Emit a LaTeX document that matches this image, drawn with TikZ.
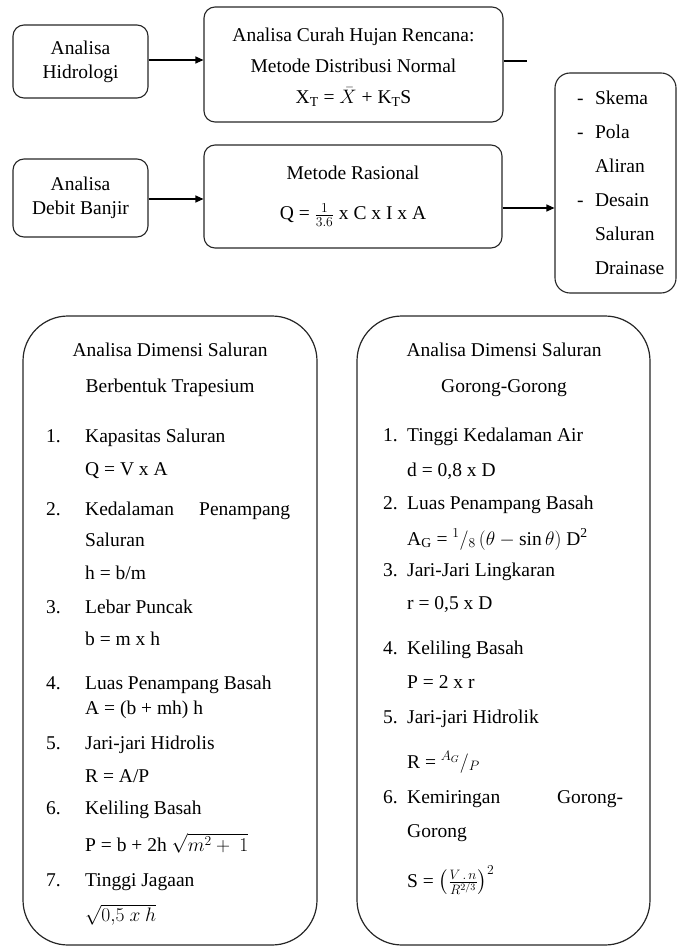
\RequirePackage{fix-cm}
\documentclass[tikz,border=0pt]{standalone}
\usepackage{amsmath}
\usepackage{fontspec}
\setmainfont{Liberation Serif}
\usetikzlibrary{arrows.meta,calc}
\tikzstyle{kotak}=[draw=black!85,line width=1.1pt,rounded corners=11pt,align=center,inner sep=0pt]
\tikzstyle{besar}=[draw=black!85,line width=1.2pt,rounded corners=45pt,inner sep=0pt]
\tikzstyle{panah}=[line width=1.1pt,-{Triangle[length=8pt,width=7pt]}]
\tikzstyle{baris}=[anchor=base west,inner sep=0pt]
\tikzstyle{judul}=[anchor=base,inner sep=0pt]
\newcommand{\strip}[1]{\mbox{\makebox[18pt][l]{-}#1}}
\newcommand{\lanjut}[1]{\mbox{\hspace*{18pt}#1}}

\begin{document}
\begin{tikzpicture}[x=1pt,y=-1pt,font=\fontsize{19.5}{24}\selectfont]
\useasboundingbox (0,0) rectangle (678,949);
% baris atas
\node[kotak,minimum width=135pt,minimum height=73pt] (hidro) at (80.5,61.5) {Analisa\\Hidrologi};
\node[kotak,minimum width=299pt,minimum height=115pt] (curah) at (353.5,64.5) {};
\node[align=center,inner sep=0pt,font=\fontsize{19.5}{31}\selectfont] (curahteks) at ($(curah.center)+(0,3)$)
  {Analisa Curah Hujan Rencana:\\Metode Distribusi Normal\\X\textsubscript{T} = $\bar{X}$ + K\textsubscript{T}S};
\coordinate (ujung) at (527,61);
\coordinate (jalur1) at (0,60);
\draw[panah] (hidro.east |- jalur1) -- (curah.west |- jalur1);
\draw[line width=1.1pt] (curah.east |- ujung) -- (ujung);
% baris kedua
\node[kotak,minimum width=135pt,minimum height=78pt] (debit) at (80.5,198) {Analisa\\Debit Banjir};
\node[kotak,minimum width=298pt,minimum height=103pt] (rasional) at (353,196.5)
  {Metode Rasional\\[16pt]Q = $\frac{1}{3.6}$ x C x I x A};
\node[kotak,text width=77pt,inner xsep=22pt,align=left,minimum height=220pt,rounded corners=15pt,
  font=\fontsize{19.5}{34}\selectfont] (hasil) at (615.5,183)
  {\strip{Skema}\\\strip{Pola}\\\lanjut{Aliran}\\\strip{Desain}\\\lanjut{Saluran}\\\lanjut{Drainase}};
\coordinate (jalur2) at (0,199);
\coordinate (jalur3) at (0,208);
\draw[panah] (debit.east |- jalur2) -- (rasional.west |- jalur2);
\draw[panah] (rasional.east |- jalur3) -- (hasil.west |- jalur3);
% saluran trapesium
\node[besar,minimum width=294pt,minimum height=629pt] (trapesium) at (170,630.5) {};
\node[judul] (tj1) at (170,356) {Analisa Dimensi Saluran};
\node[judul] (tj2) at (170,392) {Berbentuk Trapesium};
\node[baris] (tn1) at (46,442) {1.};
\node[baris] (tk1) at (85,442) {Kapasitas Saluran};
\node[baris] (tr1) at (85,475) {Q = V x A};
\node[baris] (tn2) at (46,515) {2.};
\node[baris] (tk2) at (85,515) {\makebox[205pt][s]{Kedalaman\hfill Penampang}};
\node[baris] (tk2b) at (85,546) {Saluran};
\node[baris] (tr2) at (85,579) {h = b/m};
\node[baris] (tn3) at (46,613) {3.};
\node[baris] (tk3) at (85,613) {Lebar Puncak};
\node[baris] (tr3) at (85,645) {b = m x h};
\node[baris] (tn4) at (46,689) {4.};
\node[baris] (tk4) at (85,689) {Luas Penampang Basah};
\node[baris] (tr4) at (85,714) {A = (b + mh) h};
\node[baris] (tn5) at (46,749) {5.};
\node[baris] (tk5) at (85,749) {Jari-jari Hidrolis};
\node[baris] (tr5) at (85,782) {R = A/P};
\node[baris] (tn6) at (46,814) {6.};
\node[baris] (tk6) at (85,814) {Keliling Basah};
\node[baris] (tr6) at (85,851) {P = b + 2h $\sqrt{m^2 +\ 1}$};
\node[baris] (tn7) at (46,886) {7.};
\node[baris] (tk7) at (85,886) {Tinggi Jagaan};
\node[baris] (tr7) at (85,921) {$\sqrt{0{,}5\ x\ h}$};
% saluran gorong-gorong
\node[besar,minimum width=293pt,minimum height=629pt] (gorong) at (503.5,630.5) {};
\node[judul] (gj1) at (504,356) {Analisa Dimensi Saluran};
\node[judul] (gj2) at (504,392) {Gorong-Gorong};
\node[baris] (gn1) at (383,441) {1.};
\node[baris] (gk1) at (407,441) {Tinggi Kedalaman Air};
\node[baris] (gr1) at (407,476) {d = 0,8 x D};
\node[baris] (gn2) at (383,509) {2.};
\node[baris] (gk2) at (407,509) {Luas Penampang Basah};
\node[baris] (gr2) at (407,545) {A\textsubscript{G} = ${}^{1}/_{8}\,(\theta - \sin\theta)$ D\textsuperscript{2}};
\node[baris] (gn3) at (383,576) {3.};
\node[baris] (gk3) at (407,576) {Jari-Jari Lingkaran};
\node[baris] (gr3) at (407,609) {r = 0,5 x D};
\node[baris] (gn4) at (383,654) {4.};
\node[baris] (gk4) at (407,654) {Keliling Basah};
\node[baris] (gr4) at (407,688) {P = 2 x r};
\node[baris] (gn5) at (383,723) {5.};
\node[baris] (gk5) at (407,723) {Jari-jari Hidrolik};
\node[baris] (gr5) at (407,768) {R = ${}^{A_G}/_{P}$};
\node[baris] (gn6) at (383,803) {6.};
\node[baris] (gk6) at (407,803) {\makebox[216pt][s]{Kemiringan\hfill Gorong-}};
\node[baris] (gk6b) at (407,837) {Gorong};
\node[baris] (gr6) at (407,887) {S = $\left(\frac{V\,.\,n}{R^{2/3}}\right)^2$};
\end{tikzpicture}
\end{document}
